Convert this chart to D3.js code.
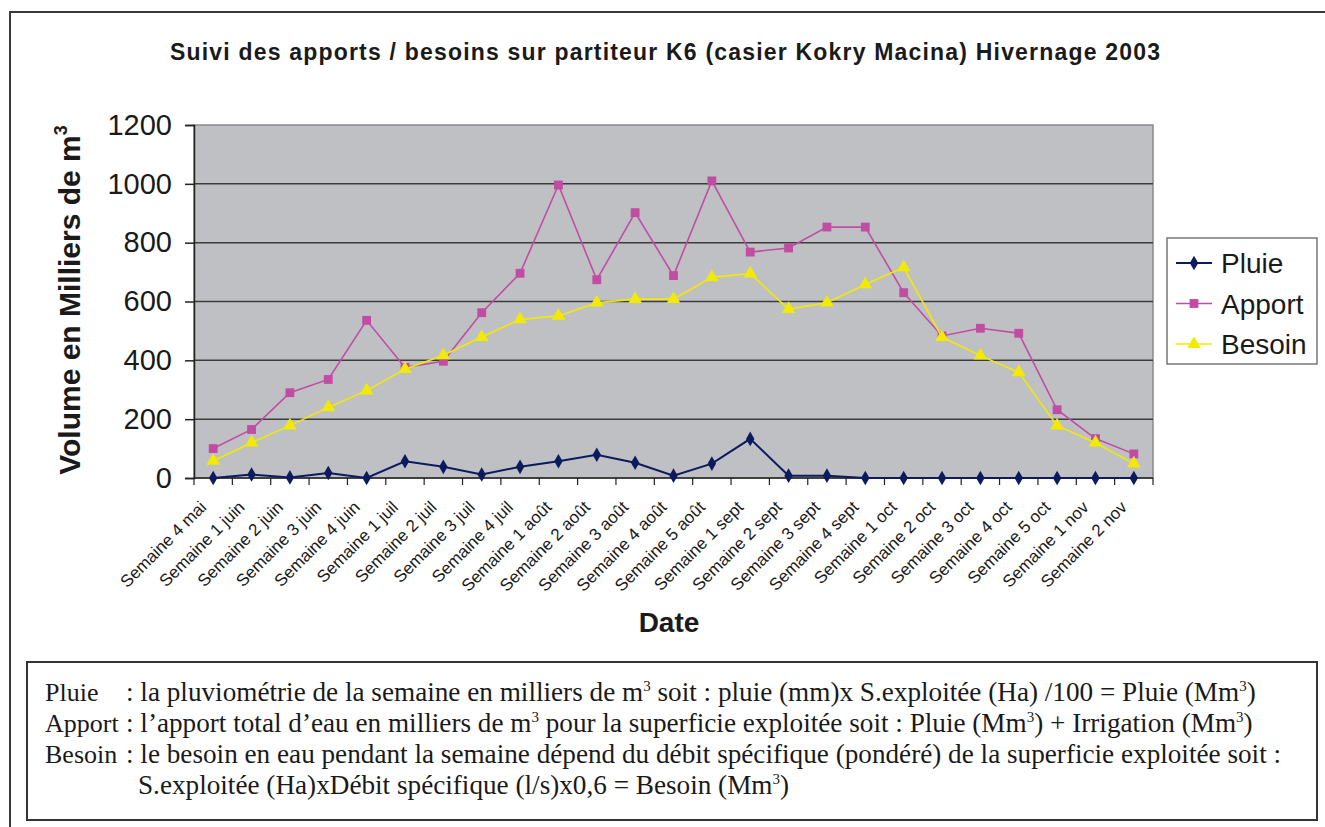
<!DOCTYPE html>
<html>
<head>
<meta charset="utf-8">
<script src="https://cdn.jsdelivr.net/npm/d3@7"></script>
<style>
  body { margin: 0; background: #fff; }
  svg { display: block; }
</style>
</head>
<body>
<svg id="chart" width="1325" height="827"></svg>
<script>
// Weekly categories (hivernage 2003)
const categories = [
  "Semaine 4 mai", "Semaine 1 juin", "Semaine 2 juin", "Semaine 3 juin", "Semaine 4 juin",
  "Semaine 1 juil", "Semaine 2 juil", "Semaine 3 juil", "Semaine 4 juil",
  "Semaine 1 août", "Semaine 2 août", "Semaine 3 août", "Semaine 4 août", "Semaine 5 août",
  "Semaine 1 sept", "Semaine 2 sept", "Semaine 3 sept", "Semaine 4 sept",
  "Semaine 1 oct", "Semaine 2 oct", "Semaine 3 oct", "Semaine 4 oct", "Semaine 5 oct",
  "Semaine 1 nov", "Semaine 2 nov"
];

// Volumes in thousands of m3
const pluie  = [0, 12, 2, 17, 0, 57, 38, 12, 38, 57, 79, 52, 8, 49, 133, 8, 8, 0, 0, 0, 0, 0, 0, 0, 0];
const apport = [100, 165, 290, 335, 536, 376, 397, 562, 696, 996, 674, 902, 688, 1010, 768, 782, 853, 853, 630, 483, 509, 492, 232, 134, 82];
const besoin = [58, 120, 178, 240, 297, 370, 417, 479, 539, 551, 596, 608, 608, 682, 695, 574, 596, 658, 716, 479, 416, 359, 178, 120, 49];

const yTicks = [0, 200, 400, 600, 800, 1000, 1200];

const seriesNames = ["Pluie", "Apport", "Besoin"];

const svg = d3.select("#chart");
const SANS = "Liberation Sans, Arial, sans-serif";

// Plot frame
const plot = { left: 194, right: 1153, top: 125, bottom: 478 };

const x = d3.scaleBand().domain(categories).range([plot.left, plot.right]).padding(0);
const y = d3.scaleLinear().domain([0, 1200]).range([plot.bottom, plot.top]);
const cx = d => x(d) + x.bandwidth() / 2;

// Outer frame (top and left edges)
svg.append("path")
  .attr("d", "M10,827 L10,12 L1325,12")
  .attr("fill", "none").attr("stroke", "#3a3a3a").attr("stroke-width", 2);

// Chart title
svg.append("text")
  .attr("x", 170).attr("y", 60)
  .attr("textLength", 990).attr("lengthAdjust", "spacing")
  .attr("font-family", SANS)
  .attr("font-weight", "bold").attr("font-size", 23).attr("fill", "#1a1a1a")
  .text("Suivi des apports / besoins sur partiteur K6 (casier Kokry Macina) Hivernage 2003");

// Plot background
svg.append("rect")
  .attr("x", plot.left).attr("y", plot.top)
  .attr("width", plot.right - plot.left).attr("height", plot.bottom - plot.top)
  .attr("fill", "#bfc0c4").attr("stroke", "#8a8a8a").attr("stroke-width", 1.5);

// Horizontal gridlines
svg.append("g").selectAll("line")
  .data(yTicks.filter(v => v > 0 && v < 1200))
  .join("line")
  .attr("x1", plot.left).attr("x2", plot.right)
  .attr("y1", d => y(d)).attr("y2", d => y(d))
  .attr("stroke", "#3c3c3c").attr("stroke-width", 1.5);

// Y axis
const yAxis = svg.append("g")
  .attr("transform", `translate(${plot.left},0)`)
  .call(d3.axisLeft(y).tickValues(yTicks).tickSize(9).tickPadding(13).tickFormat(d3.format("d")));
yAxis.select(".domain").attr("stroke", "#222").attr("stroke-width", 1.5);
yAxis.selectAll(".tick line").attr("stroke", "#222").attr("stroke-width", 1.5);
yAxis.selectAll(".tick text")
  .attr("font-family", SANS)
  .attr("font-size", 29).attr("fill", "#1a1a1a");

// X axis with ticks at category boundaries
const xAxis = svg.append("g")
  .attr("transform", `translate(0,${plot.bottom})`);
xAxis.append("line")
  .attr("x1", plot.left).attr("x2", plot.right)
  .attr("stroke", "#222").attr("stroke-width", 1.5);
xAxis.selectAll("line.tick")
  .data(categories.concat(["__end"]))
  .join("line").attr("class", "tick")
  .attr("x1", (d, i) => i < categories.length ? x(d) : plot.right)
  .attr("x2", (d, i) => i < categories.length ? x(d) : plot.right)
  .attr("y1", 0).attr("y2", 7)
  .attr("stroke", "#222").attr("stroke-width", 1.2);
xAxis.selectAll("text")
  .data(categories)
  .join("text")
  .attr("transform", d => `translate(${cx(d) - 10},${26}) rotate(-45)`)
  .attr("text-anchor", "end").attr("dy", "0.35em")
  .attr("font-family", SANS)
  .attr("font-size", 17).attr("fill", "#1a1a1a")
  .text(d => d);

// Axis titles
svg.append("text")
  .attr("x", 669).attr("y", 632).attr("text-anchor", "middle")
  .attr("font-family", SANS)
  .attr("font-weight", "bold").attr("font-size", 28).attr("fill", "#1a1a1a")
  .text("Date");

const yTitle = svg.append("text")
  .attr("transform", "translate(80,300) rotate(-90)")
  .attr("text-anchor", "middle")
  .attr("font-family", SANS)
  .attr("font-weight", "bold").attr("font-size", 30).attr("fill", "#1a1a1a");
yTitle.append("tspan").text("Volume en Milliers de m");
yTitle.append("tspan").attr("dy", -13).attr("font-size", 18).text("3");

// Series
const series = [
  { name: seriesNames[0], values: pluie,  color: "#0c1a5e", width: 2,   symbol: d3.symbolDiamond,  size: 62 },
  { name: seriesNames[1], values: apport, color: "#c04da3", width: 1.6, symbol: d3.symbolSquare,   size: 78 },
  { name: seriesNames[2], values: besoin, color: "#f2ea00", width: 1.6, symbol: d3.symbolTriangle, size: 80 }
];

const line = d3.line().x(d => cx(d.cat)).y(d => y(d.v));

series.forEach(s => {
  const pts = categories.map((c, i) => ({ cat: c, v: s.values[i] }));
  const g = svg.append("g");
  g.append("path")
    .datum(pts)
    .attr("d", line)
    .attr("fill", "none").attr("stroke", s.color).attr("stroke-width", s.width);
  g.selectAll("path.m")
    .data(pts)
    .join("path").attr("class", "m")
    .attr("transform", d => `translate(${cx(d.cat)},${y(d.v)})`)
    .attr("d", d3.symbol().type(s.symbol).size(s.size))
    .attr("fill", s.color);
});

// Legend
const legend = svg.append("g");
legend.append("rect")
  .attr("x", 1167).attr("y", 238).attr("width", 150).attr("height", 126)
  .attr("fill", "#fff").attr("stroke", "#555").attr("stroke-width", 1.2);
const legendY = d3.scalePoint().domain(seriesNames).range([263, 344]);
series.forEach(s => {
  const ly = legendY(s.name);
  legend.append("line")
    .attr("x1", 1176).attr("x2", 1212).attr("y1", ly).attr("y2", ly)
    .attr("stroke", s.color).attr("stroke-width", s.width);
  legend.append("path")
    .attr("transform", `translate(1194,${ly})`)
    .attr("d", d3.symbol().type(s.symbol).size(s.size))
    .attr("fill", s.color);
  legend.append("text")
    .attr("x", 1221).attr("y", ly).attr("dy", "0.36em")
    .attr("font-family", SANS)
    .attr("font-size", 28).attr("fill", "#1a1a1a")
    .text(s.name);
});

// Definitions box below the chart
const notes = [
  { label: "Pluie", parts: [": la pluviométrie de la semaine en milliers de m", "^3", " soit : pluie (mm)x S.exploitée (Ha) /100 = Pluie (Mm", "^3", ")"] },
  { label: "Apport", parts: [": l’apport total d’eau en milliers de m", "^3", " pour la superficie exploitée soit : Pluie (Mm", "^3", ") + Irrigation (Mm", "^3", ")"] },
  { label: "Besoin", parts: [": le besoin en eau pendant la semaine dépend du débit spécifique (pondéré) de la superficie exploitée soit :"] },
  { label: "", indent: true, parts: ["S.exploitée (Ha)xDébit spécifique (l/s)x0,6 = Besoin (Mm", "^3", ")"] }
];

svg.append("rect")
  .attr("x", 27).attr("y", 662).attr("width", 1290).attr("height", 158)
  .attr("fill", "#fff").attr("stroke", "#333").attr("stroke-width", 2);

const noteG = svg.append("g")
  .attr("font-family", "Liberation Serif, Times New Roman, serif")
  .attr("fill", "#1a1a1a");

const SUP = 10;
notes.forEach((n, i) => {
  const by = 701 + i * 31;
  if (n.label) {
    noteG.append("text").attr("x", 45).attr("y", by).attr("font-size", 26).text(n.label);
  }
  const t = noteG.append("text").attr("x", n.indent ? 138 : 126).attr("y", by).attr("font-size", 27.2);
  let raised = false;
  n.parts.forEach(p => {
    if (p.startsWith("^")) {
      t.append("tspan").attr("dy", -SUP).attr("font-size", 15).text(p.slice(1));
      raised = true;
    } else {
      t.append("tspan").attr("dy", raised ? SUP : 0).text(p);
      raised = false;
    }
  });
});
</script>
</body>
</html>
